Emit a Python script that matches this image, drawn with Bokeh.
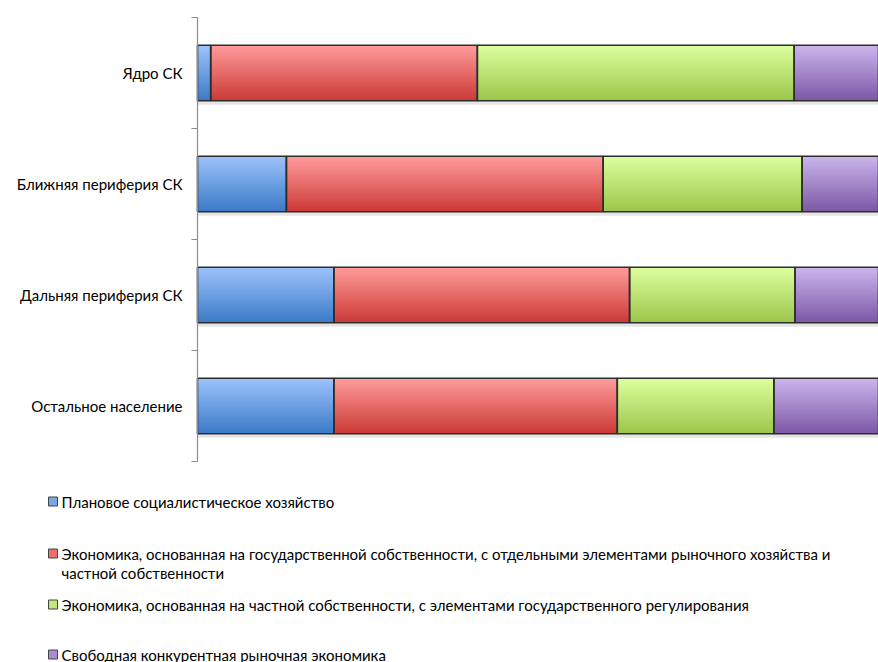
import numpy as np
from bokeh.plotting import figure
from bokeh.models import Range1d, ColumnDataSource
from bokeh.core.properties import value
from bokeh.embed import file_html
from bokeh.resources import INLINE

# ---------------- data ----------------
categories = ["Ядро СК", "Ближняя периферия СК", "Дальняя периферия СК", "Остальное население"]
series_names = [
    "Плановое социалистическое хозяйство",
    "Экономика, основанная на государственной собственности, с отдельными элементами рыночного хозяйства и частной собственности",
    "Экономика, основанная на частной собственности, с элементами государственного регулирования",
    "Свободная конкурентная рыночная экономика",
]
planned = [1.5, 10.1, 15.5, 15.5]
state_based = [30.3, 36.0, 33.6, 32.2]
private_based = [36.0, 22.6, 18.8, 17.8]
free_market = [32.2, 31.3, 32.1, 34.5]

# legend wrapping (display only)
legend_lines = [
    [series_names[0]],
    ["Экономика, основанная на государственной собственности, с отдельными элементами рыночного хозяйства и",
     "частной собственности"],
    [series_names[2]],
    [series_names[3]],
]

# ---------------- style / layout ----------------
FONT = "Lato"
FS = "15px"
top_cols = ["#9dc3fb", "#ff9c9b", "#ddff9e", "#cbb6ec"]
bot_cols = ["#3b7ac7", "#cb3936", "#9bc64a", "#7c57a5"]
mid_cols = ["#7aa6e8", "#ee6e6c", "#c2e87a", "#a98bd2"]
AXIS_COL = "#8c8c8c"

W, H = 878, 662
X0 = 197        # page x of value 0
PX_PER_PCT = 8.8
Y0 = 461        # page y of the bottom category edge
PX_PER_CAT = 111


def sx(px):
    return (px - X0) / PX_PER_PCT


def sy(py):
    return (Y0 - py) / PX_PER_CAT


def hex2rgb(h):
    h = h.lstrip("#")
    return np.array([int(h[i:i + 2], 16) for i in (0, 2, 4)], dtype=float)


def rgb2hex(c):
    return "#%02x%02x%02x" % tuple(int(round(v)) for v in c)


series = [planned, state_based, private_based, free_market]
n_cat = len(categories)
y_centers = [n_cat - i - 0.5 for i in range(n_cat)]
bar_h = 0.5

p = figure(width=W, height=H, output_backend="svg", toolbar_location=None,
           x_range=Range1d(sx(0), sx(W)), y_range=Range1d(sy(H), sy(0)),
           min_border=0)
p.outline_line_color = None
p.grid.visible = False
p.axis.visible = False

# stacked positions
lefts, rights = [], []
acc = np.zeros(n_cat)
for s in series:
    lefts.append(acc.copy())
    acc = acc + np.array(s)
    rights.append(acc.copy())

# shadow under each bar
p.hbar(y=[y - 0.035 for y in y_centers], left=0, right=acc, height=bar_h,
       fill_color="#000000", fill_alpha=0.10, line_color=None)

# gradient: nested strips, each reaching to the bar bottom
n_strips = 30
strip_h = bar_h / n_strips
for k in range(len(series)):
    t = hex2rgb(top_cols[k])
    b = hex2rgb(bot_cols[k])
    ys, hs, ls, rs, cs = [], [], [], [], []
    for j in range(n_strips):
        f = (j + 0.5) / n_strips
        col = rgb2hex(t + (b - t) * f)
        for i in range(n_cat):
            top = y_centers[i] + bar_h / 2 - j * strip_h
            bottom = y_centers[i] - bar_h / 2
            ys.append((top + bottom) / 2)
            hs.append(top - bottom)
            ls.append(lefts[k][i])
            rs.append(rights[k][i])
            cs.append(col)
    src = ColumnDataSource(dict(y=ys, h=hs, left=ls, right=rs, color=cs))
    p.hbar(y="y", left="left", right="right", height="h", fill_color="color",
           line_color=None, source=src)

# outlines
for k in range(len(series)):
    p.hbar(y=y_centers, left=lefts[k], right=rights[k], height=bar_h,
           fill_color=None, line_color="#2e2e2e", line_width=1.6)

# category axis: line, boundary ticks, labels
p.segment(x0=[0], y0=[0], x1=[0], y1=[n_cat], line_color=AXIS_COL, line_width=1.2)
bounds = list(range(n_cat + 1))
p.segment(x0=[0] * len(bounds), y0=bounds, x1=[sx(X0 - 6)] * len(bounds), y1=bounds,
          line_color=AXIS_COL, line_width=1.2)
p.text(x=[sx(X0 - 15)] * n_cat, y=y_centers, text=categories, text_align="right",
       text_baseline="middle", text_font=value(FONT), text_font_size=FS, text_color="#000000")

# legend
item_centers = [501, 553, 604, 654]
line_gap = 19
mx, tx = 52.5, 61
p.scatter(x=[sx(mx)] * len(series), y=[sy(c) for c in item_centers], marker="square", size=9,
          fill_color=mid_cols, line_color="#444444", line_width=1)
lx, ly, lt = [], [], []
for k, lines in enumerate(legend_lines):
    for m, line in enumerate(lines):
        lx.append(sx(tx))
        ly.append(sy(item_centers[k] + m * line_gap))
        lt.append(line)
p.text(x=lx, y=ly, text=lt, text_align="left", text_baseline="middle",
       text_font=value(FONT), text_font_size=FS, text_color="#000000")

open("out.html", "w").write(file_html(p, INLINE))
